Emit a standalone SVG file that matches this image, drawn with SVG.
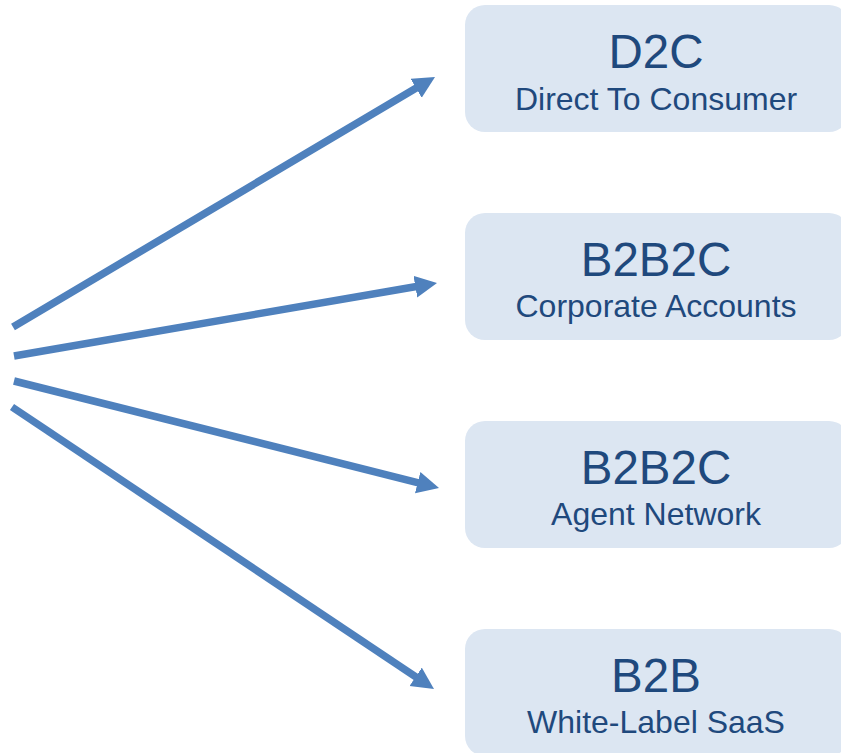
<svg xmlns="http://www.w3.org/2000/svg" width="841" height="753" viewBox="0 0 841 753">
  <style>
    .box { fill: #DCE6F2; }
    .title { font-family: "Liberation Sans", Arial, sans-serif; font-size: 47.5px; fill: #1F497D; text-anchor: middle; }
    .sub { font-family: "Liberation Sans", Arial, sans-serif; font-size: 32px; fill: #1F497D; text-anchor: middle; }
    .arrow { stroke: #4F81BD; stroke-width: 7.5; fill: none; marker-end: url(#head); }
  </style>
  <defs>
    <marker id="head" markerUnits="userSpaceOnUse" markerWidth="24" markerHeight="24" refX="10" refY="11" orient="auto">
      <path d="M0,0 L22,11 L0,22 z" fill="#4F81BD"/>
    </marker>
  </defs>
  <rect width="841" height="753" fill="#FFFFFF"/>

  <g id="connectors">
    <line class="arrow" x1="13" y1="327" x2="424.7" y2="83.1"/>
    <line class="arrow" x1="14" y1="356" x2="425.2" y2="285.0"/>
    <line class="arrow" x1="14" y1="381" x2="427.4" y2="485.1"/>
    <line class="arrow" x1="12" y1="407" x2="424.0" y2="682.3"/>
  </g>

  <g id="d2c">
    <rect class="box" x="465" y="5" width="384" height="127" rx="20"/>
    <text class="title" x="656" y="68">D2C</text>
    <text class="sub" x="656" y="110">Direct To Consumer</text>
  </g>
  <g id="b2b2c-corporate">
    <rect class="box" x="465" y="213" width="384" height="127" rx="20"/>
    <text class="title" x="656" y="276">B2B2C</text>
    <text class="sub" x="656" y="317">Corporate Accounts</text>
  </g>
  <g id="b2b2c-agent">
    <rect class="box" x="465" y="421" width="384" height="127" rx="20"/>
    <text class="title" x="656" y="484">B2B2C</text>
    <text class="sub" x="656" y="525">Agent Network</text>
  </g>
  <g id="b2b">
    <rect class="box" x="465" y="629" width="384" height="127" rx="20"/>
    <text class="title" x="656" y="692">B2B</text>
    <text class="sub" x="656" y="733">White-Label SaaS</text>
  </g>
</svg>
